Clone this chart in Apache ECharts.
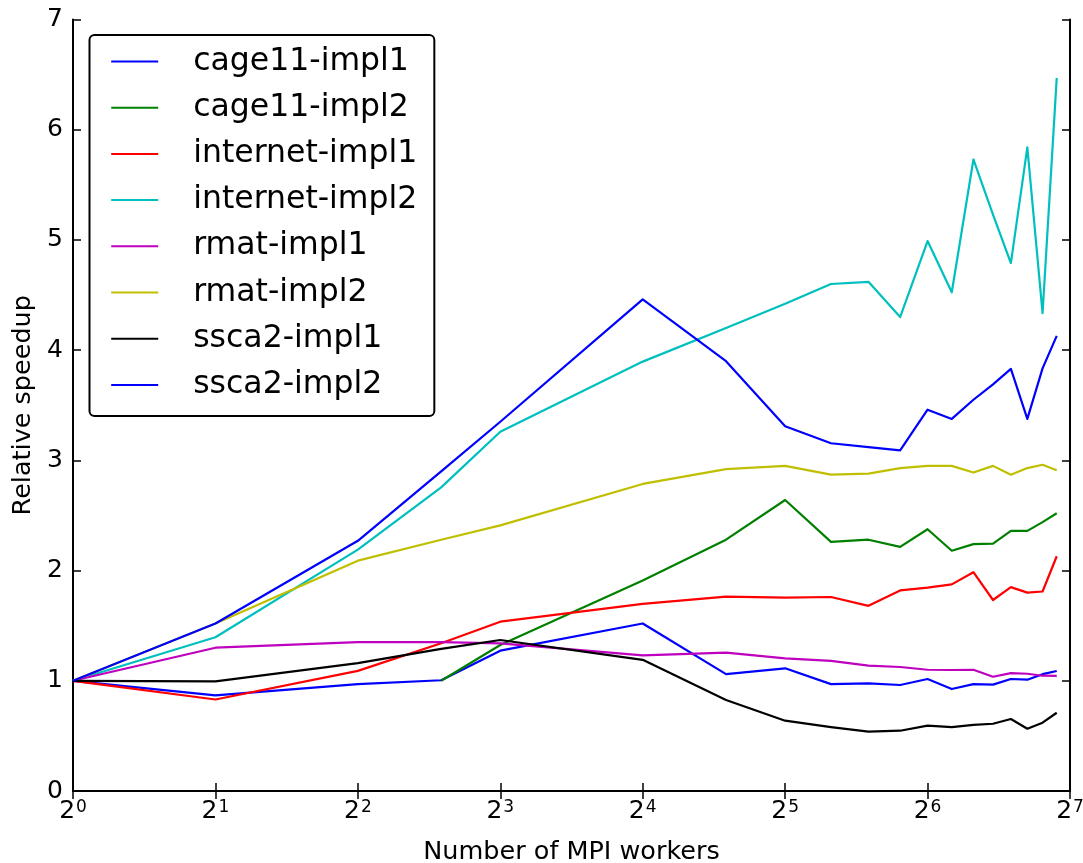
<!DOCTYPE html>
<html>
<head>
<meta charset="utf-8">
<script src="https://cdn.jsdelivr.net/npm/echarts@6/dist/echarts.min.js"></script>
<style>
html,body{margin:0;padding:0;background:#fff;}
#chart{width:1083px;height:863px;}
</style>
</head>
<body>
<div id="chart"></div>
<script>
// Number of MPI workers (x positions of the samples)
const workers = [1, 2, 4, 6, 8, 16, 24, 32, 40, 48, 56, 64, 72, 80, 88, 96, 104, 112, 120];

// Relative speedup per series (null = no sample)
const cage11Impl1   = [1.0, 0.868, 0.97, 1.005, 1.273, 1.52, 1.06, 1.113, 0.97, 0.977, 0.962, 1.016, 0.925, 0.97, 0.965, 1.016, 1.01, 1.06, 1.089];
const cage11Impl2   = [null, null, null, 1.0, 1.325, 1.91, 2.28, 2.64, 2.26, 2.28, 2.215, 2.375, 2.18, 2.24, 2.245, 2.36, 2.36, 2.44, 2.52];
const internetImpl1 = [1.0, 0.83, 1.09, 1.34, 1.536, 1.697, 1.763, 1.754, 1.76, 1.68, 1.82, 1.845, 1.875, 1.985, 1.733, 1.85, 1.80, 1.81, 2.13];
const internetImpl2 = [1.0, 1.395, 2.19, 2.755, 3.26, 3.896, 4.20, 4.42, 4.60, 4.62, 4.30, 4.99, 4.525, 5.73, 5.23, 4.79, 5.84, 4.335, 6.47];
const rmatImpl1     = [1.0, 1.30, 1.35, 1.35, 1.34, 1.23, 1.255, 1.204, 1.18, 1.137, 1.125, 1.10, 1.098, 1.10, 1.037, 1.07, 1.064, 1.046, 1.044];
const rmatImpl2     = [1.0, 1.52, 2.09, 2.28, 2.41, 2.786, 2.92, 2.95, 2.87, 2.88, 2.93, 2.95, 2.95, 2.89, 2.95, 2.87, 2.93, 2.96, 2.91];
const ssca2Impl1    = [1.0, 0.995, 1.16, 1.29, 1.37, 1.19, 0.826, 0.638, 0.58, 0.538, 0.547, 0.593, 0.58, 0.60, 0.61, 0.653, 0.565, 0.62, 0.71];
const ssca2Impl2    = [1.0, 1.52, 2.27, 2.90, 3.35, 4.46, 3.90, 3.31, 3.155, 3.12, 3.09, 3.46, 3.376, 3.55, 3.69, 3.83, 3.376, 3.835, 4.13];

const seriesNames  = ['cage11-impl1', 'cage11-impl2', 'internet-impl1', 'internet-impl2', 'rmat-impl1', 'rmat-impl2', 'ssca2-impl1', 'ssca2-impl2'];
const seriesValues = [cage11Impl1, cage11Impl2, internetImpl1, internetImpl2, rmatImpl1, rmatImpl2, ssca2Impl1, ssca2Impl2];
const seriesColors = ['#0000ff', '#008000', '#ff0000', '#00bfbf', '#bf00bf', '#bfbf00', '#000000', '#0000ff'];

const yTicks = [0, 1, 2, 3, 4, 5, 6, 7];

const FONT = 'DejaVu Sans';

const chart = echarts.init(document.getElementById('chart'), null, {renderer: 'canvas'});

const series = seriesNames.map((name, i) => ({
  name: name,
  type: 'line',
  xAxisIndex: 0,
  yAxisIndex: 0,
  symbol: 'none',
  showSymbol: false,
  lineStyle: {color: seriesColors[i], width: 2.2, join: 'round'},
  itemStyle: {color: seriesColors[i]},
  data: workers.map((w, j) => [w, seriesValues[i][j]]).filter(p => p[1] !== null),
  z: 2 + i * 0.01,
  animation: false
}));

const frameLine = {show: true, lineStyle: {color: '#000', width: 2}};
const tickIn = {show: true, inside: true, length: 8, lineStyle: {color: '#000', width: 1.5}};

chart.setOption({
  animation: false,
  backgroundColor: '#fff',
  textStyle: {fontFamily: FONT},
  grid: {left: 73, right: 13, top: 19.5, bottom: 72, containLabel: false, outerBoundsMode: 'none'},
  legend: {
    orient: 'vertical',
    left: 89.5,
    top: 35,
    data: seriesNames,
    icon: 'rect',
    itemWidth: 47,
    itemHeight: 2,
    itemGap: 14.2,
    padding: [10.5, 17, 15, 21.7],
    backgroundColor: '#fff',
    borderColor: '#000',
    borderWidth: 2,
    borderRadius: 5,
    textStyle: {fontFamily: FONT, fontSize: 31.5, color: '#000', lineHeight: 31, padding: [0, 0, 0, 30]},
    selectedMode: false
  },
  xAxis: [
    {
      type: 'log',
      logBase: 2,
      min: 1,
      max: 128,
      splitNumber: 7,
      position: 'bottom',
      name: 'Number of MPI workers',
      nameLocation: 'middle',
      nameGap: 48,
      nameTextStyle: {fontFamily: FONT, fontSize: 25.5, color: '#000'},
      axisLine: frameLine,
      axisTick: tickIn,
      minorTick: {show: false},
      splitLine: {show: false},
      axisLabel: {
        margin: 8,
        color: '#000',
        formatter: v => '{b|2}{s|' + Math.round(Math.log2(v)) + '}',
        rich: {
          b: {fontFamily: FONT, fontSize: 25, color: '#000'},
          s: {fontFamily: FONT, fontSize: 17, color: '#000', verticalAlign: 'top', padding: [0, 0, 0, 1]}
        }
      }
    },
    {
      type: 'log',
      logBase: 2,
      min: 1,
      max: 128,
      splitNumber: 7,
      position: 'top',
      axisLine: frameLine,
      axisTick: tickIn,
      minorTick: {show: false},
      splitLine: {show: false},
      axisLabel: {show: false}
    }
  ],
  yAxis: [
    {
      type: 'value',
      min: yTicks[0],
      max: yTicks[yTicks.length - 1],
      interval: 1,
      position: 'left',
      name: 'Relative speedup',
      nameLocation: 'middle',
      nameGap: 37,
      nameTextStyle: {fontFamily: FONT, fontSize: 25.5, color: '#000'},
      axisLine: frameLine,
      axisTick: tickIn,
      splitLine: {show: false},
      axisLabel: {margin: 10, fontFamily: FONT, fontSize: 25, color: '#000'}
    },
    {
      type: 'value',
      min: yTicks[0],
      max: yTicks[yTicks.length - 1],
      interval: 1,
      position: 'right',
      axisLine: frameLine,
      axisTick: tickIn,
      splitLine: {show: false},
      axisLabel: {show: false}
    }
  ],
  series: series
});
</script>
</body>
</html>
